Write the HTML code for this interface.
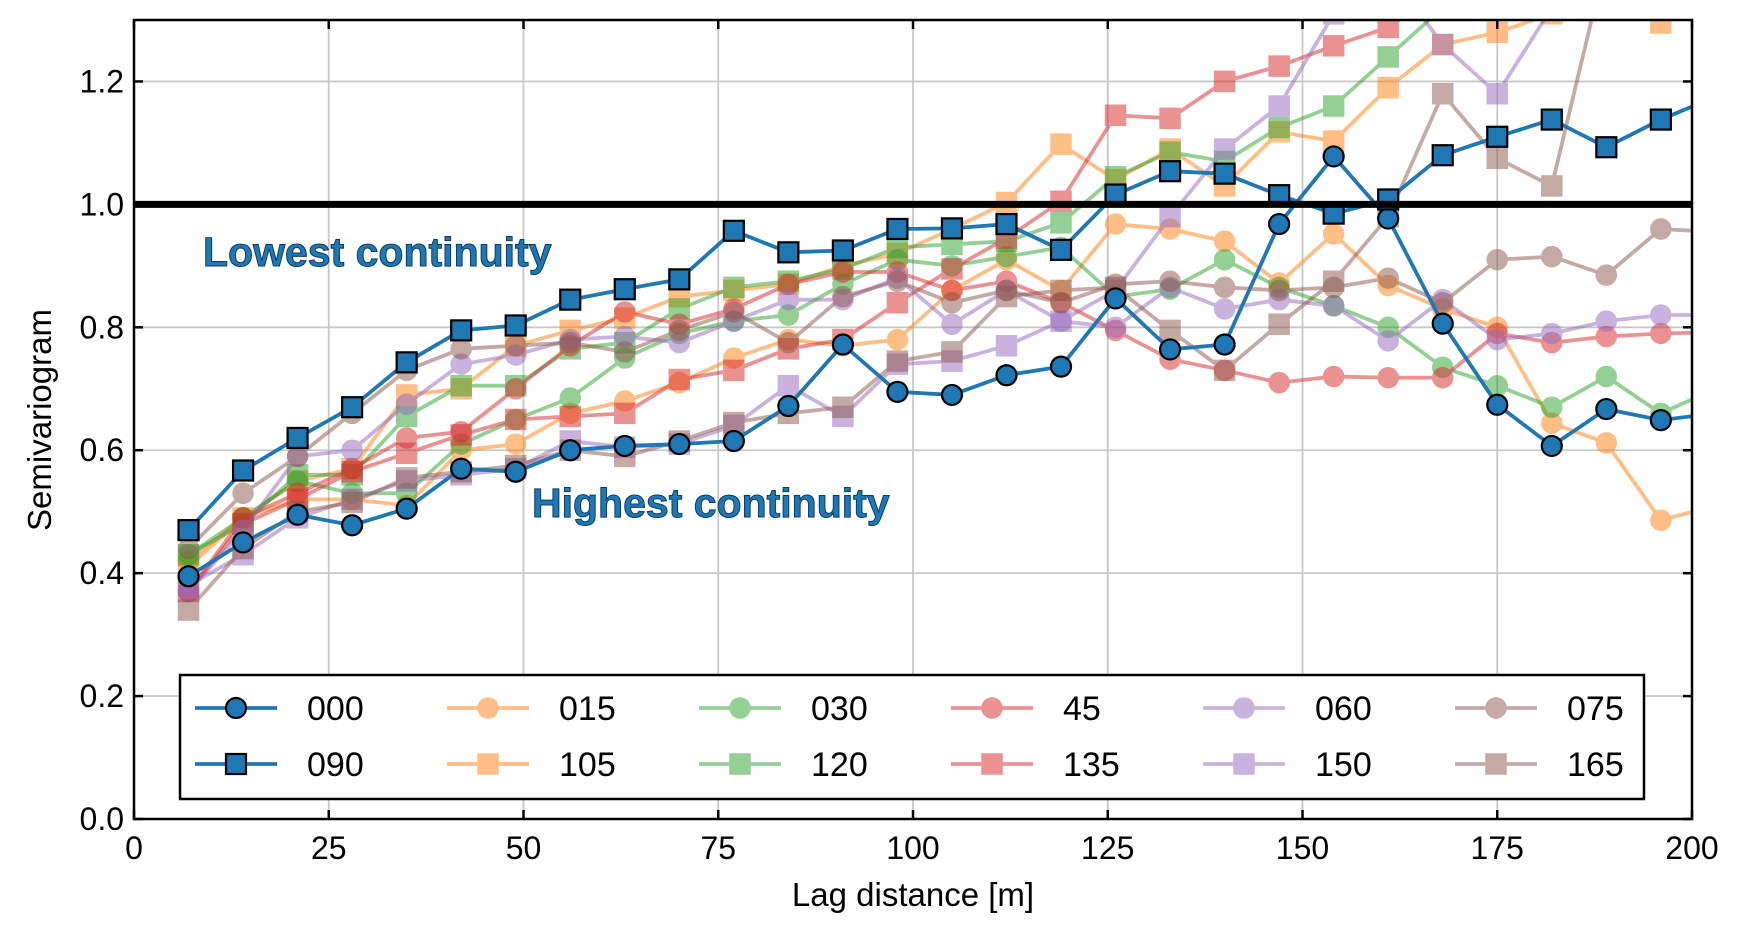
<!DOCTYPE html>
<html><head><meta charset="utf-8"><style>
html,body{margin:0;padding:0;background:#fff;}
svg{display:block;font-family:"Liberation Sans",Arial,sans-serif;}
</style></head><body>
<svg id="chart" width="1746" height="935" viewBox="0 0 1746 935" xmlns="http://www.w3.org/2000/svg">
<g id="grid"></g>
<g id="series"></g>
<g id="axes"></g>
<g id="legend"></g>
</svg>
<script>
const lags = [7,14,21,28,35,42,49,56,63,70,77,84,91,98,105,112,119,126,133,140,147,154,161,168,175,182,189,196,203];
const xTicks = [0,25,50,75,100,125,150,175,200];
const yTicks = [0.0,0.2,0.4,0.6,0.8,1.0,1.2];
const yTickLabels = ["0.0","0.2","0.4","0.6","0.8","1.0","1.2"];
const s000 = [0.395,0.45,0.495,0.478,0.505,0.57,0.565,0.60,0.607,0.61,0.615,0.672,0.772,0.695,0.69,0.722,0.736,0.847,0.764,0.772,0.968,1.078,0.977,0.806,0.674,0.607,0.667,0.649,0.66];
const s090 = [0.47,0.567,0.62,0.67,0.743,0.795,0.803,0.845,0.862,0.878,0.957,0.922,0.925,0.96,0.961,0.968,0.926,1.016,1.054,1.05,1.015,0.985,1.008,1.08,1.11,1.138,1.093,1.138,1.175];
const s015 = [0.42,0.49,0.52,0.52,0.51,0.6,0.61,0.66,0.68,0.71,0.75,0.78,0.77,0.78,0.86,0.91,0.86,0.968,0.96,0.94,0.872,0.952,0.868,0.83,0.8,0.644,0.612,0.486,0.51];
const s105 = [0.41,0.49,0.55,0.57,0.69,0.70,0.77,0.795,0.815,0.85,0.86,0.87,0.9,0.92,0.96,1.003,1.098,1.04,1.09,1.03,1.118,1.103,1.19,1.26,1.28,1.31,1.35,1.295,1.33];
const s030 = [0.43,0.49,0.55,0.53,0.53,0.61,0.65,0.685,0.75,0.79,0.81,0.82,0.87,0.91,0.90,0.915,0.93,0.85,0.862,0.91,0.865,0.835,0.80,0.735,0.705,0.67,0.72,0.66,0.70];
const s120 = [0.43,0.48,0.56,0.56,0.655,0.705,0.705,0.765,0.775,0.83,0.865,0.875,0.895,0.93,0.935,0.94,0.97,1.045,1.085,1.07,1.125,1.16,1.24,1.32,1.4,1.45,1.5,1.55,1.6];
const s45 = [0.37,0.49,0.53,0.57,0.62,0.63,0.70,0.77,0.825,0.805,0.83,0.87,0.89,0.89,0.86,0.875,0.84,0.795,0.748,0.73,0.71,0.72,0.718,0.718,0.79,0.775,0.785,0.79,0.792];
const s135 = [0.37,0.48,0.52,0.565,0.595,0.625,0.65,0.655,0.66,0.715,0.73,0.765,0.78,0.84,0.895,0.945,1.005,1.145,1.14,1.2,1.225,1.258,1.288,1.35,1.4,1.45,1.5,1.55,1.6];
const s060 = [0.37,0.47,0.59,0.60,0.675,0.74,0.755,0.78,0.785,0.775,0.81,0.845,0.845,0.88,0.805,0.86,0.81,0.80,0.865,0.83,0.845,0.835,0.778,0.845,0.78,0.79,0.81,0.82,0.82];
const s150 = [0.38,0.43,0.49,0.52,0.55,0.56,0.57,0.615,0.605,0.61,0.64,0.705,0.655,0.74,0.745,0.77,0.81,0.86,0.98,1.09,1.16,1.31,1.38,1.26,1.18,1.32,1.4,1.45,1.5];
const s075 = [0.44,0.53,0.59,0.66,0.73,0.765,0.77,0.775,0.76,0.795,0.825,0.775,0.85,0.875,0.84,0.86,0.84,0.87,0.875,0.865,0.86,0.865,0.88,0.84,0.91,0.915,0.885,0.96,0.955];
const s165 = [0.34,0.44,0.50,0.515,0.555,0.565,0.575,0.60,0.59,0.615,0.645,0.66,0.67,0.745,0.76,0.85,0.86,0.865,0.795,0.73,0.805,0.875,0.98,1.18,1.075,1.03,1.4,1.45,1.5];
const seriesNames = ["000","090","015","105","030","120","45","135","060","150","075","165"];
const seriesData = [s000,s090,s015,s105,s030,s120,s45,s135,s060,s150,s075,s165];

const L=134,R=1692,T=20,B=819,XMAX=200,YMAX=1.3;
const xs=v=>L+(v/XMAX)*(R-L);
const ys=v=>B-(v/YMAX)*(B-T);
const NS="http://www.w3.org/2000/svg";
function mk(tag,attrs,parent){const e=document.createElementNS(NS,tag);for(const k in attrs)e.setAttribute(k,attrs[k]);parent.appendChild(e);return e;}
const svg=document.getElementById('chart');
const defs=mk('defs',{},svg);
const cp=mk('clipPath',{id:'plotclip'},defs);
mk('rect',{x:L,y:T,width:R-L,height:B-T},cp);

const grid=document.getElementById('grid');
xTicks.forEach(t=>{const l=mk('line',{x1:xs(t),x2:xs(t),y1:T,y2:B,stroke:'#c8c8c8','stroke-width':1.8},grid);

});
yTicks.forEach(t=>{const l=mk('line',{x1:L,x2:R,y1:ys(t),y2:ys(t),stroke:'#c8c8c8','stroke-width':1.8},grid);

});

const colors=['#1f77b4','#1f77b4','#ff7f0e','#ff7f0e','#2ca02c','#2ca02c','#d62728','#d62728','#9467bd','#9467bd','#8c564b','#8c564b'];
const sg=document.getElementById('series');
sg.setAttribute('clip-path','url(#plotclip)');
function marker(g,x,y,sq,col,main){
  let m;
  if(sq){m=mk('rect',{x:x-10,y:y-10,width:20,height:20,fill:col,stroke:main?'#000':col,'stroke-width':main?2.2:1.5},g);}
  else{m=mk('circle',{cx:x,cy:y,r:10,fill:col,stroke:main?'#000':col,'stroke-width':main?2.2:1.5},g);}
  return m;
}
const order=[2,3,4,5,6,7,8,9,10,11,0,1];
order.forEach(i=>{
  const main=i<2, col=colors[i], sq=i%2===1;
  const g=mk('g',{opacity:main?1:0.5},sg);
  
  
  const d=seriesData[i].map((v,k)=>(k?'L':'M')+xs(lags[k]).toFixed(1)+','+ys(v).toFixed(1)).join('');
  mk('path',{d:d,fill:'none',stroke:col,'stroke-width':3.8,'stroke-linejoin':'round'},g);
  seriesData[i].forEach((v,k)=>{const m=marker(g,xs(lags[k]),ys(v),sq,col,main);
    
    });
});
const ref=mk('line',{x1:L,x2:R,y1:ys(1.0),y2:ys(1.0),stroke:'#000','stroke-width':7},sg);



const ax=document.getElementById('axes');
const frame=mk('rect',{x:L,y:T,width:R-L,height:B-T,fill:'none',stroke:'#000','stroke-width':2.5},ax);


xTicks.forEach(t=>{
  mk('line',{x1:xs(t),x2:xs(t),y1:B,y2:B-9,stroke:'#000','stroke-width':2.5},ax);
  mk('line',{x1:xs(t),x2:xs(t),y1:T,y2:T+9,stroke:'#000','stroke-width':2.5},ax);
  const tx=mk('text',{x:xs(t),y:B+40,'text-anchor':'middle','font-size':32,fill:'#000'},ax);
  tx.textContent=t;
  
  
});
yTicks.forEach((t,k)=>{
  mk('line',{x1:L,x2:L+9,y1:ys(t),y2:ys(t),stroke:'#000','stroke-width':2.5},ax);
  mk('line',{x1:R,x2:R-9,y1:ys(t),y2:ys(t),stroke:'#000','stroke-width':2.5},ax);
  const tx=mk('text',{x:L-10,y:ys(t)+11,'text-anchor':'end','font-size':32,fill:'#000'},ax);
  tx.textContent=yTickLabels[k];
  
  
});
const xl=mk('text',{x:(L+R)/2,y:906,'text-anchor':'middle','font-size':33,fill:'#000'},ax);
xl.textContent='Lag distance [m]';


const yl=mk('text',{x:0,y:0,'text-anchor':'middle','font-size':33,fill:'#000',transform:'translate(51,420) rotate(-90)'},ax);
yl.textContent='Semivariogram';


const a1=mk('text',{x:203,y:266,'font-size':41,'font-weight':'bold',fill:'#1f77b4',stroke:'#0d3c63','stroke-width':1},ax);
a1.textContent='Lowest continuity';


const a2=mk('text',{x:532,y:517,'font-size':41,'font-weight':'bold',fill:'#1f77b4',stroke:'#0d3c63','stroke-width':1},ax);
a2.textContent='Highest continuity';



const lg=document.getElementById('legend');
const box=mk('rect',{x:180,y:675,width:1464,height:124,fill:'#fff',stroke:'#000','stroke-width':2.5},lg);


const legOrder=[[0,2,4,6,8,10],[1,3,5,7,9,11]];
legOrder.forEach((row,r)=>row.forEach((i,c)=>{
  const x0=195+c*252, y0=708+r*56, main=i<2, col=colors[i];
  const g=mk('g',{},lg);
  
  
  const sub=mk('g',{opacity:main?1:0.5},g);
  mk('line',{x1:x0,x2:x0+82,y1:y0,y2:y0,stroke:col,'stroke-width':3.8},sub);
  marker(sub,x0+41,y0,i%2===1,col,main);
  const t=mk('text',{x:x0+112,y:y0+12,'font-size':34,fill:'#000'},g);
  t.textContent=seriesNames[i];
}));
</script>
</body></html>
